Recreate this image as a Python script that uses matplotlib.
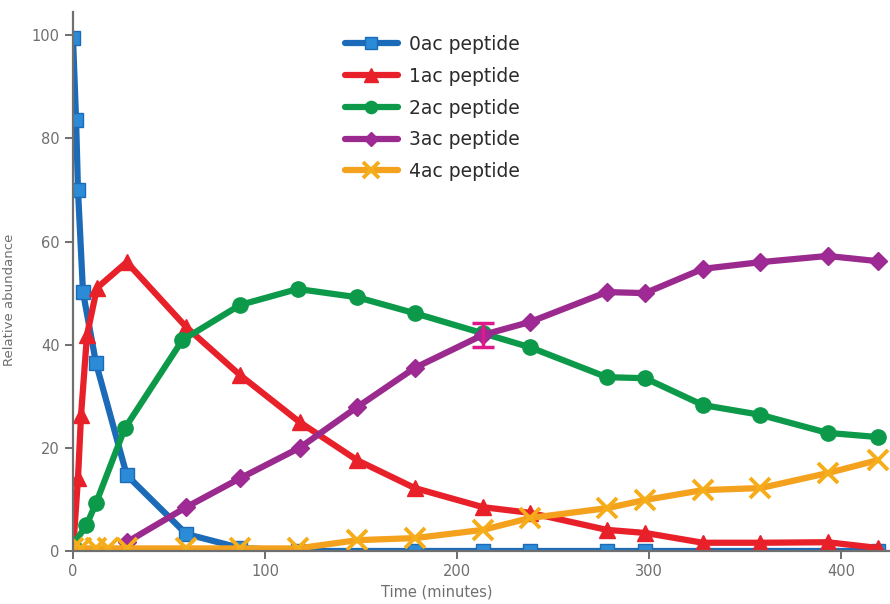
import matplotlib
matplotlib.use("Agg")
import matplotlib.pyplot as plt

# Acetylation time course: relative abundance of each peptide species
t_0ac = [0, 1.6, 2.6, 5.2, 12, 28, 59, 87, 117, 178, 213.5, 238, 278, 298, 419]
v_0ac = [99.4, 83.5, 70.0, 50.2, 36.4, 14.7, 3.3, 0.6, 0, 0, 0, 0, 0, 0, 0]

t_1ac = [0, 2.6, 4.2, 7.3, 12.5, 28, 59, 87, 118, 148, 178, 213.5, 238, 278, 298, 328, 358, 393, 419]
v_1ac = [0, 14.1, 26.4, 41.9, 51.0, 56.0, 43.4, 34.1, 25.0, 17.6, 12.2, 8.5, 7.4, 4.1, 3.5, 1.6, 1.6, 1.7, 0.6]

t_2ac = [0, 7, 12, 27, 57, 87, 117, 148, 178, 213.5, 238, 278, 298, 328, 358, 393, 419]
v_2ac = [1.2, 5.0, 9.3, 23.8, 40.9, 47.7, 50.8, 49.2, 46.1, 42.2, 39.5, 33.7, 33.5, 28.3, 26.4, 22.9, 22.1]

t_3ac = [28, 59, 87, 118, 148, 178, 213.5, 238, 278, 298, 328, 358, 393, 419]
v_3ac = [1.7, 8.5, 14.1, 20.0, 27.9, 35.5, 41.9, 44.4, 50.2, 50.0, 54.7, 56.0, 57.2, 56.2]

t_4ac = [0, 4, 12, 18, 28, 59, 87, 117, 148, 178, 213.5, 238, 278, 298, 328, 358, 393, 419]
v_4ac = [0.5, 0.5, 0.5, 0.5, 0.5, 0.5, 0.5, 0.5, 2.1, 2.5, 4.1, 6.4, 8.3, 9.9, 11.8, 12.2, 15.1, 17.6]

# single replicate spread shown on the 3ac series
err_time = [213.5]
err_value = [41.9]
err_size = [2.4]

labels = ["0ac peptide", "1ac peptide", "2ac peptide", "3ac peptide", "4ac peptide"]
x_ticks = [0, 100, 200, 300, 400]
y_ticks = [0, 20, 40, 60, 80, 100]

plt.rcParams['font.family'] = ['DejaVu Sans']

fig = plt.figure(figsize=(8.9, 6.04), dpi=100)
ax = fig.add_axes([73 / 890, 53 / 604, 817 / 890, 539 / 604])

lw = 4.5
series = [
    (t_0ac, v_0ac, dict(color="#1b6bb8", marker="s", ms=10, mfc="#2b8bd6", mec="#1b6bb8")),
    (t_1ac, v_1ac, dict(color="#e8202a", marker="^", ms=12, mfc="#e8202a", mec="#e8202a")),
    (t_2ac, v_2ac, dict(color="#0c9a4a", marker="o", ms=11, mfc="#0c9a4a", mec="#0c9a4a")),
    (t_3ac, v_3ac, dict(color="#9b2a8f", marker="D", ms=9, mfc="#a02a95", mec="#9b2a8f")),
    (t_4ac, v_4ac, dict(color="#f4a11d", marker="x", ms=14, mew=2.8, mfc="#f7b51a", mec="#f6ad1a")),
]

for (tt, vv, style), lab in zip(series, labels):
    ax.plot(tt, vv, lw=lw, label=lab, solid_capstyle="round",
            solid_joinstyle="round", **style)

ax.errorbar(err_time, err_value, yerr=err_size, fmt="none", ecolor="#e0198a",
            elinewidth=2.5, capsize=8, capthick=2.5, zorder=5)

ax.set_xlim(0, 425.5)
ax.set_ylim(0, 104.5)
ax.set_xticks(x_ticks)
ax.set_yticks(y_ticks)

grey = "#6f6f6f"
for side in ["top", "right"]:
    ax.spines[side].set_visible(False)
for side in ["left", "bottom"]:
    ax.spines[side].set_color(grey)
    ax.spines[side].set_linewidth(1.6)
ax.tick_params(axis="both", colors=grey, labelcolor=grey, labelsize=10.5,
               length=6, width=1.4, direction="out")

ax.set_xlabel("Time (minutes)", fontsize=10.5, color=grey)
ax.set_ylabel("Relative abundance", fontsize=9.5, color=grey)
ax.xaxis.set_label_coords((437 - 73) / 817, -0.062)
ax.yaxis.set_label_coords(-0.07, 0.466)

ax.legend(loc="upper left", bbox_to_anchor=(345 / 890, 1 - 35 / 604),
          bbox_transform=fig.transFigure, frameon=False, fontsize=13.5,
          borderpad=0, borderaxespad=0, labelspacing=0.68,
          handlelength=2.8, handletextpad=0.6, markerscale=0.8,
          labelcolor="#2b2b2b")

fig.savefig("out.png", dpi=100)
